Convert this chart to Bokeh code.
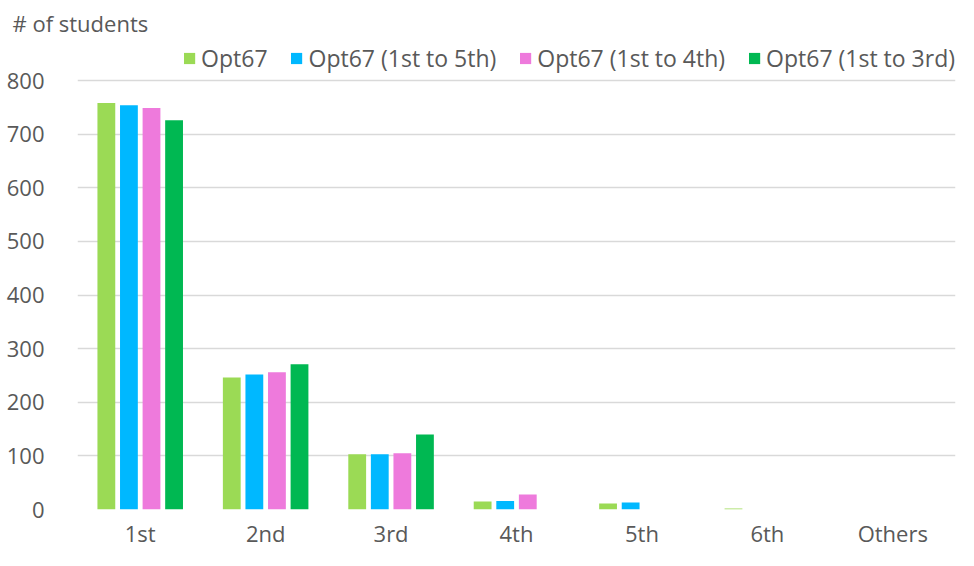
from bokeh.plotting import figure
from bokeh.models import FactorRange, Range1d, Legend, LegendItem, FixedTicker, ColumnDataSource
from bokeh.transform import dodge
from bokeh.embed import file_html
from bokeh.resources import INLINE

cats = ["1st", "2nd", "3rd", "4th", "5th", "6th", "Others"]
opt67 = [758, 246, 103, 15, 11, 2, 0]
opt67_1to5 = [754, 252, 103, 16, 13, 0, 0]
opt67_1to4 = [749, 256, 105, 28, 0, 0, 0]
opt67_1to3 = [726, 271, 140, 0, 0, 0, 0]
series_names = ["Opt67", "Opt67 (1st to 5th)", "Opt67 (1st to 4th)", "Opt67 (1st to 3rd)"]
series_colors = ["#9bda55", "#00b8ff", "#ee7adc", "#00b852"]
y_ticks = [0, 100, 200, 300, 400, 500, 600, 700, 800]

FONT = "Open Sans"
TXT = "#595959"

src = ColumnDataSource(dict(cats=cats, s0=opt67, s1=opt67_1to5, s2=opt67_1to4, s3=opt67_1to3))

p = figure(width=958, height=550, x_range=FactorRange(*cats), y_range=Range1d(0, 871),
           output_backend="svg", toolbar_location=None,
           min_border_left=77, min_border_right=3, min_border_bottom=0, min_border_top=0)

offsets = [-0.27, -0.09, 0.09, 0.27]
items = []
for i, key in enumerate(["s0", "s1", "s2", "s3"]):
    r = p.vbar(x=dodge("cats", offsets[i], range=p.x_range), top=key, width=0.142, bottom=0,
               source=src, fill_color=series_colors[i], line_color=None)
    items.append(LegendItem(label=series_names[i], renderers=[r]))

legend = Legend(items=items, orientation="horizontal", location="top_right",
                label_text_font=FONT, label_text_font_size="23px", label_text_color=TXT,
                glyph_width=14, glyph_height=14, label_standoff=5, spacing=22,
                border_line_color=None, background_fill_alpha=0, padding=2, margin=0)
p.add_layout(legend, "center")

p.title.text = "# of students"
p.title.text_font = FONT
p.title.text_font_size = "22px"
p.title.text_font_style = "normal"
p.title.text_color = TXT
p.title.align = "left"
p.title.offset = -65

p.yaxis.ticker = FixedTicker(ticks=y_ticks)
p.xaxis.axis_line_color = None
p.yaxis.axis_line_color = None
p.xaxis.major_tick_line_color = None
p.yaxis.major_tick_line_color = None
p.xaxis.minor_tick_line_color = None
p.yaxis.minor_tick_line_color = None
p.xaxis.major_tick_out = 0
p.xaxis.axis_label_standoff = 0
for ax in (p.xaxis, p.yaxis):
    ax.major_label_text_font = FONT
    ax.major_label_text_font_size = "22px"
    ax.major_label_text_color = TXT
p.yaxis.major_label_standoff = 27
p.xaxis.major_label_standoff = 8

p.xgrid.grid_line_color = None
p.ygrid.grid_line_color = "#d9d9d9"
p.ygrid.grid_line_width = 1.5
p.outline_line_color = None
p.x_range.range_padding = 0

open("out.html", "w").write(file_html(p, INLINE))
